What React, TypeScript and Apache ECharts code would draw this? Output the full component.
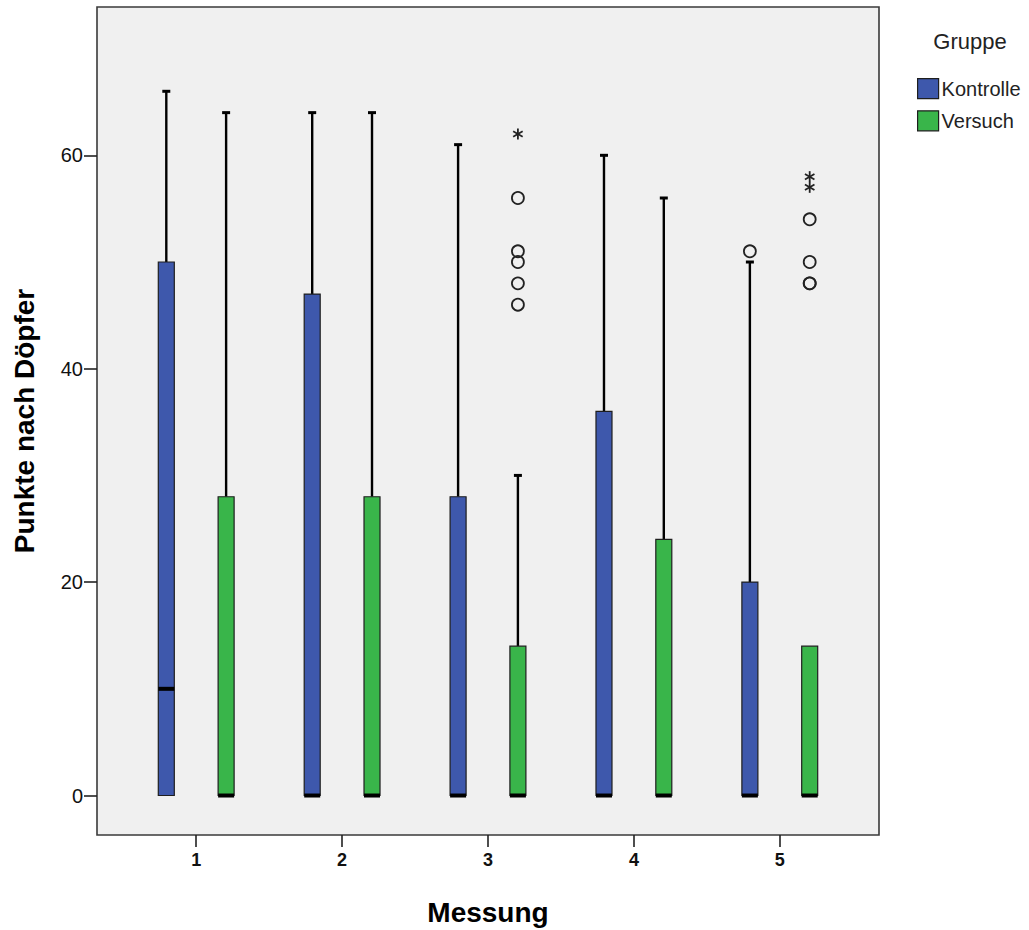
import React, { useEffect, useRef } from "react";
import * as echarts from "echarts";

// ---- data ----
const messungen = [1, 2, 3, 4, 5];
const gruppen = ["Kontrolle", "Versuch"];
const yTicks = [0, 20, 40, 60];
// [min, Q1, median, Q3, max] per Messung
const kontrolleBox = [
  [0, 0, 10, 50, 66],
  [0, 0, 0, 47, 64],
  [0, 0, 0, 28, 61],
  [0, 0, 0, 36, 60],
  [0, 0, 0, 20, 50],
];
const versuchBox = [
  [0, 0, 0, 28, 64],
  [0, 0, 0, 28, 64],
  [0, 0, 0, 14, 30],
  [0, 0, 0, 24, 56],
  [0, 0, 0, 14, 14],
];
// outliers (circles) and extremes (stars): [Messung, value]
const kontrolleAusreisser = [[5, 51]];
const kontrolleExtrem: number[][] = [];
const versuchAusreisser = [
  [3, 56], [3, 51], [3, 50], [3, 48], [3, 46],
  [5, 54], [5, 50], [5, 48], [5, 48],
];
const versuchExtrem = [[3, 62], [5, 58], [5, 57]];

const colors = ["#3e58ac", "#39b54a"];
const offsets = [-0.205, 0.205];
const FONT = "'Liberation Sans', Arial, sans-serif";

function boxSeries(name: string, box: number[][], color: string, off: number) {
  return {
    type: "custom",
    name,
    itemStyle: { color },
    dimensions: ["x", "min", "q1", "med", "q3", "max"],
    encode: { x: 0, y: [1, 2, 3, 4, 5] },
    data: messungen.map((m, i) => [m, ...box[i]]),
    z: 3,
    renderItem: (params: any, api: any) => {
      const x = api.value(0) + off;
      const vMin = api.value(1), q1 = api.value(2), med = api.value(3), q3 = api.value(4), vMax = api.value(5);
      const px = api.coord([x, 0])[0];
      const yMin = api.coord([x, vMin])[1];
      const yQ1 = api.coord([x, q1])[1];
      const yMed = api.coord([x, med])[1];
      const yQ3 = api.coord([x, q3])[1];
      const yMax = api.coord([x, vMax])[1];
      const hw = 8;
      const children: any[] = [];
      const wStyle = { stroke: "#000", lineWidth: 2.4 };
      if (vMax > q3) {
        children.push({ type: "line", shape: { x1: px, y1: yQ3, x2: px, y2: yMax }, style: wStyle });
        children.push({ type: "line", shape: { x1: px - 4, y1: yMax, x2: px + 4, y2: yMax }, style: { stroke: "#000", lineWidth: 3 } });
      }
      if (vMin < q1) {
        children.push({ type: "line", shape: { x1: px, y1: yQ1, x2: px, y2: yMin }, style: wStyle });
        children.push({ type: "line", shape: { x1: px - 4, y1: yMin, x2: px + 4, y2: yMin }, style: { stroke: "#000", lineWidth: 3 } });
      }
      children.push({
        type: "rect",
        shape: { x: px - hw, y: yQ3, width: hw * 2, height: yQ1 - yQ3 },
        style: { fill: color, stroke: "#1e1e1e", lineWidth: 1.2 },
      });
      children.push({
        type: "rect",
        shape: { x: px - hw, y: yMed - 2, width: hw * 2, height: 4 },
        style: { fill: "#000" },
      });
      return { type: "group", children };
    },
  };
}

function outlierSeries(name: string, pts: number[][], off: number, star: boolean) {
  return {
    type: "custom",
    name,
    encode: { x: 0, y: 1 },
    data: pts,
    z: 4,
    renderItem: (params: any, api: any) => {
      const p = api.coord([api.value(0) + off, api.value(1)]);
      if (!star) {
        return {
          type: "circle",
          shape: { cx: p[0], cy: p[1], r: 6 },
          style: { fill: "none", stroke: "#222", lineWidth: 1.8 },
        };
      }
      const r = 5.5;
      const c = Math.cos(Math.PI / 6) * r;
      const s = Math.sin(Math.PI / 6) * r;
      const st = { stroke: "#222", lineWidth: 1.8 };
      return {
        type: "group",
        children: [
          { type: "line", shape: { x1: p[0], y1: p[1] - r, x2: p[0], y2: p[1] + r }, style: st },
          { type: "line", shape: { x1: p[0] - c, y1: p[1] - s, x2: p[0] + c, y2: p[1] + s }, style: st },
          { type: "line", shape: { x1: p[0] - c, y1: p[1] + s, x2: p[0] + c, y2: p[1] - s }, style: st },
        ],
      };
    },
  };
}

export default function App() {
  const ref = useRef<HTMLDivElement>(null);
  useEffect(() => {
    if (!ref.current) return;
    const chart = echarts.init(ref.current, undefined, { renderer: "svg" });
    chart.setOption({
      animation: false,
      backgroundColor: "#ffffff",
      grid: {
        left: 97,
        top: 7,
        right: 150,
        bottom: 95,
        show: true,
        backgroundColor: "#f0f0f0",
        borderColor: "#3a3a3a",
        borderWidth: 1.6,
        containLabel: false,
      },
      xAxis: {
        type: "value",
        min: 0.32,
        max: 5.68,
        position: "bottom",
        axisLine: { show: false, onZero: false },
        splitLine: { show: false },
        axisTick: {
          show: true,
          length: 12,
          customValues: messungen,
          lineStyle: { color: "#222", width: 1.6 },
        },
        axisLabel: {
          customValues: messungen,
          margin: 16,
          fontFamily: FONT,
          fontSize: 18,
          fontWeight: "bold",
          color: "#111",
        },
      },
      yAxis: {
        type: "value",
        min: -3.7,
        max: 73.9,
        position: "left",
        axisLine: { show: false, onZero: false },
        splitLine: { show: false },
        axisTick: {
          show: true,
          length: 13,
          customValues: yTicks,
          lineStyle: { color: "#222", width: 1.6 },
        },
        axisLabel: {
          customValues: yTicks,
          margin: 14,
          fontFamily: FONT,
          fontSize: 20,
          color: "#111",
        },
      },
      legend: {
        orient: "vertical",
        left: 917,
        top: 78,
        padding: 0,
        itemWidth: 21,
        itemHeight: 20,
        itemGap: 11,
        icon: "rect",
        itemStyle: { borderColor: "#1e1e1e", borderWidth: 1.2 },
        textStyle: { fontFamily: FONT, fontSize: 20, color: "#222", padding: [0, 0, 0, -2] },
        data: gruppen.map((g, i) => ({ name: g, itemStyle: { color: colors[i] } })),
      },
      graphic: [
        {
          type: "text",
          x: 970,
          y: 41,
          style: { text: "Gruppe", font: `22px ${FONT}`, fill: "#222", align: "center", verticalAlign: "middle" },
        },
        {
          type: "text",
          x: 488,
          y: 912,
          style: { text: "Messung", font: `bold 28px ${FONT}`, fill: "#000", align: "center", verticalAlign: "middle" },
        },
        {
          type: "text",
          x: 24,
          y: 421,
          rotation: Math.PI / 2,
          style: { text: "Punkte nach Döpfer", font: `bold 28px ${FONT}`, fill: "#000", align: "center", verticalAlign: "middle" },
        },
      ],
      series: [
        boxSeries(gruppen[0], kontrolleBox, colors[0], offsets[0]),
        boxSeries(gruppen[1], versuchBox, colors[1], offsets[1]),
        outlierSeries("Kontrolle Ausreißer", kontrolleAusreisser, offsets[0], false),
        outlierSeries("Kontrolle Extremwerte", kontrolleExtrem, offsets[0], true),
        outlierSeries("Versuch Ausreißer", versuchAusreisser, offsets[1], false),
        outlierSeries("Versuch Extremwerte", versuchExtrem, offsets[1], true),
      ],
    });
    return () => chart.dispose();
  }, []);
  return (
    <div
      ref={ref}
      style={{ position: "fixed", left: 0, top: 0, width: 1029, height: 930, background: "#fff" }}
    />
  );
}
